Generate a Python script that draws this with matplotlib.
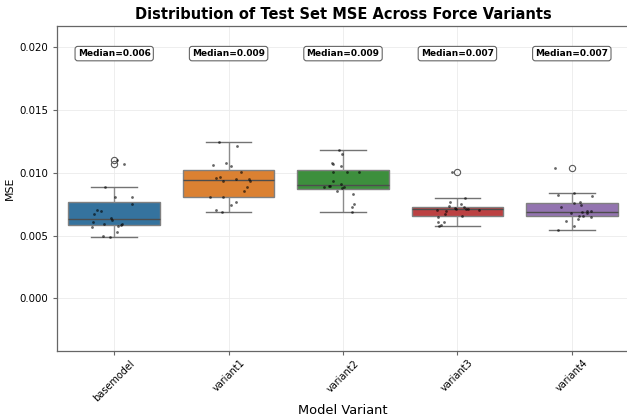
import numpy as np
import pandas as pd
import seaborn as sns
import matplotlib.pyplot as plt
from matplotlib.ticker import FormatStrFormatter

# test set MSE per run
variants = ["basemodel", "variant1", "variant2", "variant3", "variant4"]

basemodel = [0.0110, 0.0107, 0.0089, 0.0081, 0.0081, 0.00749, 0.00707, 0.00699,
             0.0067, 0.00638, 0.00611, 0.0062, 0.00585, 0.00593, 0.0059, 0.00574,
             0.00569, 0.0053, 0.00495, 0.00487]
variant1 = [0.01244, 0.01212, 0.0108, 0.01061, 0.01056, 0.0101, 0.00968, 0.0096,
            0.00937, 0.00947, 0.00934, 0.0095, 0.00887, 0.00852, 0.00807, 0.00807,
            0.00765, 0.00744, 0.0069, 0.00701]
variant2 = [0.0118, 0.01146, 0.0108, 0.01072, 0.01053, 0.0101, 0.0101, 0.0101,
            0.00932, 0.00913, 0.00892, 0.00894, 0.00884, 0.00887, 0.00876, 0.00852,
            0.00833, 0.00754, 0.00725, 0.00685]
variant3 = [0.0101, 0.0080, 0.0077, 0.00749, 0.00733, 0.0072, 0.00704, 0.00693,
            0.00704, 0.0067, 0.00712, 0.00725, 0.00714, 0.00712, 0.00659, 0.00646,
            0.00611, 0.00606, 0.00585, 0.0058]
variant4 = [0.01035, 0.00842, 0.00826, 0.00815, 0.0077, 0.00757, 0.00746, 0.00728,
            0.00696, 0.00699, 0.00685, 0.0068, 0.00683, 0.00659, 0.00656, 0.00648,
            0.00635, 0.00617, 0.0058, 0.00548]

mse_values = [basemodel, variant1, variant2, variant3, variant4]

df = pd.DataFrame({
    "variant": np.repeat(variants, [len(v) for v in mse_values]),
    "mse": np.concatenate(mse_values),
})

fig = plt.figure(figsize=(6.27, 4.2), dpi=100)
ax = fig.add_axes([57 / 627, 1 - 351 / 420, 572 / 627, 325 / 420])

sns.boxplot(
    data=df, x="variant", y="mse", hue="variant", palette="tab10",
    order=variants, width=0.8, saturation=0.7, ax=ax, legend=False, linewidth=1.0,
    boxprops=dict(edgecolor="0.5"),
    whiskerprops=dict(color="0.55"),
    capprops=dict(color="0.45"),
    medianprops=dict(color="0.3", linewidth=1.0),
    flierprops=dict(marker="o", markersize=4.5, markerfacecolor="none",
                    markeredgecolor="0.35", markeredgewidth=0.8),
)

np.random.seed(3)
sns.stripplot(
    data=df, x="variant", y="mse", order=variants, color="black",
    size=2, alpha=0.6, jitter=0.2, ax=ax,
)

for i, vals in enumerate(mse_values):
    ax.text(i, 0.0195, f"Median={np.median(vals):.3f}", ha="center", va="center",
            fontsize=6.5, fontweight="bold",
            bbox=dict(boxstyle="round,pad=0.3", facecolor="white",
                      edgecolor="0.4", linewidth=0.8))

ax.set_xlim(-0.5, 4.5)
ax.set_ylim(-0.0042, 0.0217)
ax.set_yticks([0.0, 0.005, 0.010, 0.015, 0.020])
ax.yaxis.set_major_formatter(FormatStrFormatter("%.3f"))

ax.set_title("Distribution of Test Set MSE Across Force Variants",
             fontsize=10.5, fontweight="bold", pad=5)
ax.set_xlabel("Model Variant", fontsize=9.4, labelpad=1)
ax.set_ylabel("MSE", fontsize=7.8, labelpad=3)
plt.setp(ax.get_xticklabels(), rotation=45, fontsize=7.0)
plt.setp(ax.get_yticklabels(), fontsize=7.4)
ax.tick_params(length=3, width=0.8, color="0.4")
ax.tick_params(axis="x", pad=2)

ax.grid(True, color="0.92", linewidth=0.6)
ax.set_axisbelow(True)
for side in ["left", "bottom", "top", "right"]:
    ax.spines[side].set_color("0.4")
    ax.spines[side].set_linewidth(0.9)

fig.savefig("out.png", dpi=100)
